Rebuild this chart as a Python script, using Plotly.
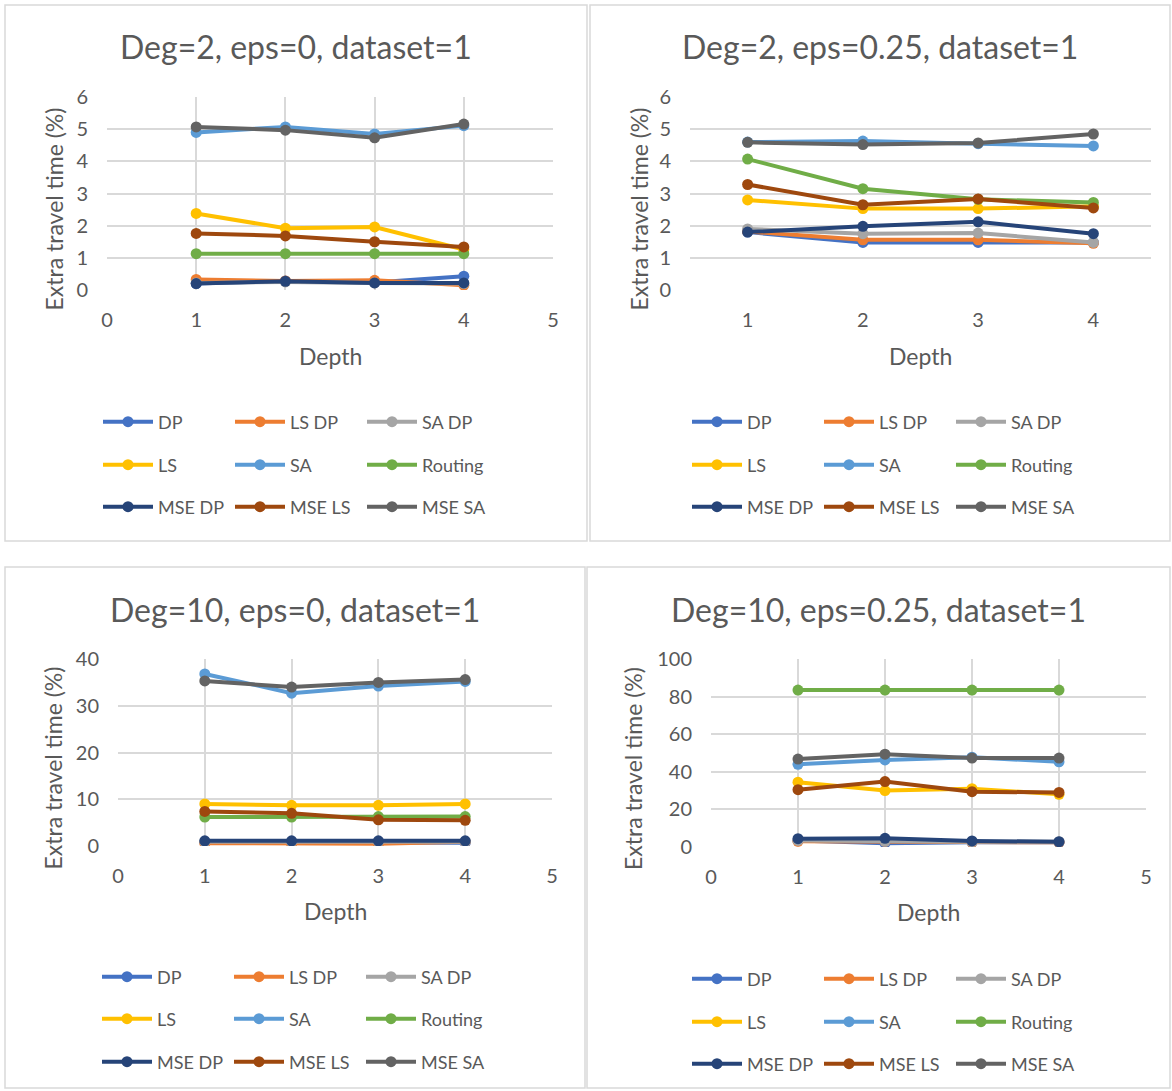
import plotly.graph_objects as go

W, H = 1172, 1091
FONT = "Lato"
TXT = "#595959"
GRID = "#D9D9D9"

depth = [1, 2, 3, 4]
series_names = ["DP", "LS DP", "SA DP", "LS", "SA", "Routing", "MSE DP", "MSE LS", "MSE SA"]
series_colors = ["#4472C4", "#ED7D31", "#A5A5A5", "#FFC000", "#5B9BD5", "#70AD47", "#264478", "#9E480E", "#636363"]

titles = ["Deg=2, eps=0, dataset=1", "Deg=2, eps=0.25, dataset=1",
          "Deg=10, eps=0, dataset=1", "Deg=10, eps=0.25, dataset=1"]

# Deg=2, eps=0
p1_dp = [0.20, 0.28, 0.23, 0.43]
p1_lsdp = [0.33, 0.28, 0.30, 0.15]
p1_sadp = [0.22, 0.25, 0.22, 0.20]
p1_ls = [2.38, 1.92, 1.96, 1.26]
p1_sa = [4.90, 5.07, 4.85, 5.11]
p1_routing = [1.13, 1.13, 1.13, 1.13]
p1_msedp = [0.20, 0.27, 0.22, 0.22]
p1_msels = [1.76, 1.68, 1.50, 1.34]
p1_msesa = [5.07, 4.97, 4.73, 5.16]

# Deg=2, eps=0.25
p2_dp = [1.80, 1.48, 1.48, 1.48]
p2_lsdp = [1.82, 1.56, 1.56, 1.45]
p2_sadp = [1.90, 1.75, 1.77, 1.48]
p2_ls = [2.80, 2.53, 2.53, 2.60]
p2_sa = [4.60, 4.63, 4.55, 4.48]
p2_routing = [4.07, 3.15, 2.82, 2.72]
p2_msedp = [1.80, 1.98, 2.12, 1.75]
p2_msels = [3.28, 2.65, 2.83, 2.55]
p2_msesa = [4.59, 4.52, 4.57, 4.85]

# Deg=10, eps=0
p3_dp = [0.8, 0.7, 0.7, 0.7]
p3_lsdp = [0.6, 0.5, 0.5, 0.9]
p3_sadp = [0.9, 0.9, 0.9, 0.9]
p3_ls = [9.0, 8.7, 8.7, 9.0]
p3_sa = [36.8, 32.7, 34.2, 35.2]
p3_routing = [6.2, 6.2, 6.3, 6.3]
p3_msedp = [1.1, 1.1, 1.1, 1.1]
p3_msels = [7.4, 7.0, 5.6, 5.5]
p3_msesa = [35.3, 34.0, 35.0, 35.6]

# Deg=10, eps=0.25
p4_dp = [3.5, 2.0, 2.5, 2.5]
p4_lsdp = [3.0, 3.0, 2.5, 2.5]
p4_sadp = [3.5, 3.0, 2.8, 2.8]
p4_ls = [34.5, 30.0, 31.0, 28.0]
p4_sa = [44.0, 46.3, 47.8, 45.3]
p4_routing = [83.5, 83.5, 83.5, 83.5]
p4_msedp = [4.4, 4.6, 3.2, 2.8]
p4_msels = [30.5, 34.8, 29.4, 29.0]
p4_msesa = [46.8, 49.4, 47.3, 47.3]

panels_data = [
    [p1_dp, p1_lsdp, p1_sadp, p1_ls, p1_sa, p1_routing, p1_msedp, p1_msels, p1_msesa],
    [p2_dp, p2_lsdp, p2_sadp, p2_ls, p2_sa, p2_routing, p2_msedp, p2_msels, p2_msesa],
    [p3_dp, p3_lsdp, p3_sadp, p3_ls, p3_sa, p3_routing, p3_msedp, p3_msels, p3_msesa],
    [p4_dp, p4_lsdp, p4_sadp, p4_ls, p4_sa, p4_routing, p4_msedp, p4_msels, p4_msesa],
]

y_ranges = [[0, 6], [0, 6], [0, 40], [0, 100]]
y_dticks = [1, 1, 10, 20]
x_ranges = [[0, 5], [0.5, 4.5], [0, 5], [0, 5]]
x_ticks = [[0, 1, 2, 3, 4, 5], [1, 2, 3, 4], [0, 1, 2, 3, 4, 5], [0, 1, 2, 3, 4, 5]]
x_vgrid = [True, False, True, True]

# layout geometry in pixels
plot_px = [  # left, right, top, bottom
    (107, 553, 97, 290),
    (690, 1151, 97, 290),
    (118, 552, 659, 846),
    (711, 1146, 659, 847),
]
panel_px = [
    (5, 587, 5, 541),
    (590, 1170, 5, 541),
    (5, 585, 567, 1088),
    (587, 1170, 567, 1088),
]
title_y = [47, 47, 609, 609]
depth_y = [356, 356, 911, 912]
ytitle_x = [53, 638, 52, 633]
legend_x = [98, 687, 97, 687]
legend_rows_y = [[422, 465, 507], [422, 465, 507], [977, 1019, 1062], [979, 1022, 1064]]


def fx(px):
    return px / W


def fy(py):
    return 1 - py / H


fig = go.Figure()
layout = dict(
    template="none",
    width=W, height=H, autosize=False,
    margin=dict(l=0, r=0, t=0, b=0, pad=0, autoexpand=False),
    paper_bgcolor="white", plot_bgcolor="white",
    font=dict(family=FONT, color=TXT, size=18),
    showlegend=True,
)
annotations = []
shapes = []

for p in range(4):
    ax = "" if p == 0 else str(p + 1)
    l, r, t, b = plot_px[p]
    layout["xaxis" + ax] = dict(
        domain=[fx(l), fx(r)], range=x_ranges[p], tickvals=x_ticks[p],
        showgrid=x_vgrid[p], gridcolor=GRID, gridwidth=1.5, zeroline=False,
        showline=False, anchor="y" + ax, fixedrange=True, automargin=False,
        tickfont=dict(size=20, color=TXT), ticks="", ticklabelstandoff=16,
    )
    layout["yaxis" + ax] = dict(
        domain=[fy(b), fy(t)], range=y_ranges[p], dtick=y_dticks[p],
        showgrid=True, gridcolor=GRID, gridwidth=1.5, zeroline=False,
        showline=False, anchor="x" + ax, fixedrange=True, automargin=False,
        tickfont=dict(size=20, color=TXT), ticks="", ticklabelstandoff=18,
    )
    for i, name in enumerate(series_names):
        row = i // 3
        leg_id = p * 3 + row + 1
        leg = "legend" if leg_id == 1 else "legend%d" % leg_id
        fig.add_trace(go.Scatter(
            x=depth, y=panels_data[p][i], name=name, mode="lines+markers",
            line=dict(color=series_colors[i], width=4),
            marker=dict(color=series_colors[i], size=11, symbol="circle"),
            xaxis="x" + ax, yaxis="y" + ax, legend=leg, hoverinfo="skip",
        ))
    for row in range(3):
        leg_id = p * 3 + row + 1
        key = "legend" if leg_id == 1 else "legend%d" % leg_id
        layout[key] = dict(
            x=fx(legend_x[p]), y=fy(legend_rows_y[p][row]), xanchor="left", yanchor="middle",
            orientation="h", entrywidth=67, itemwidth=50, bgcolor="rgba(0,0,0,0)",
            font=dict(family=FONT, size=18, color=TXT), tracegroupgap=0,
            itemclick=False, itemdoubleclick=False,
        )
    cx = (panel_px[p][0] + panel_px[p][1]) / 2
    annotations.append(dict(text=titles[p], x=fx(cx), y=fy(title_y[p]), xref="paper", yref="paper",
                            showarrow=False, xanchor="center", yanchor="middle",
                            font=dict(family=FONT, size=32, color=TXT)))
    annotations.append(dict(text="Depth", x=fx((l + r) / 2), y=fy(depth_y[p]), xref="paper", yref="paper",
                            showarrow=False, xanchor="center", yanchor="middle",
                            font=dict(family=FONT, size=23, color=TXT)))
    annotations.append(dict(text="Extra travel time (%)", x=fx(ytitle_x[p]), y=fy((t + b) / 2 + 16),
                            xref="paper", yref="paper", textangle=-90,
                            showarrow=False, xanchor="center", yanchor="middle",
                            font=dict(family=FONT, size=23, color=TXT)))
    pl, pr, pt, pb = panel_px[p]
    shapes.append(dict(type="rect", xref="paper", yref="paper", x0=fx(pl), x1=fx(pr), y0=fy(pb), y1=fy(pt),
                       line=dict(color=GRID, width=1.5), fillcolor="rgba(0,0,0,0)", layer="below"))

layout["annotations"] = annotations
layout["shapes"] = shapes
fig.update_layout(**layout)
fig.write_html("out.html")
